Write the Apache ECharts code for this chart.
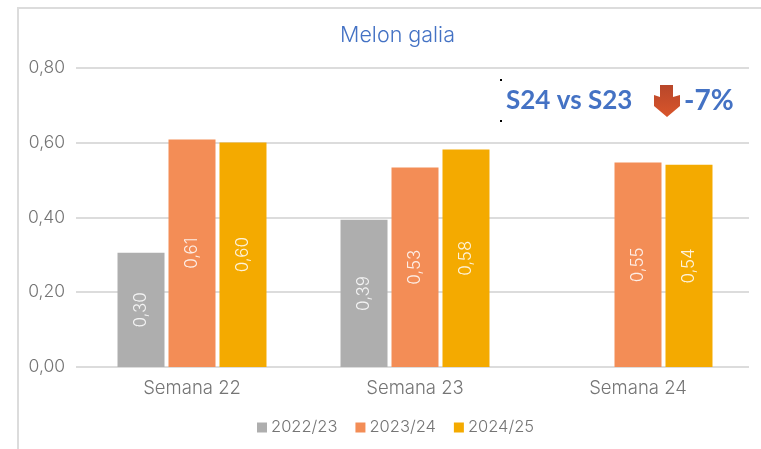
<!DOCTYPE html>
<html>
<head>
<meta charset="utf-8">
<style>
  html, body { margin: 0; padding: 0; background: #fff; }
  #chart { width: 761px; height: 449px; }
</style>
<script src="https://cdn.jsdelivr.net/npm/echarts@6/dist/echarts.min.js"></script>
</head>
<body>
<div id="chart"></div>
<script>
const categories = ['Semana 22', 'Semana 23', 'Semana 24'];
const season_names = ['2022/23', '2023/24', '2024/25'];
const season_colors = ['#aeaeae', '#f38d56', '#f4aa00'];
const values_2022 = [0.305, 0.393, null];
const values_2023 = [0.608, 0.533, 0.546];
const values_2024 = [0.600, 0.581, 0.540];
const label_2022 = ['0,30', '0,39', ''];
const label_2023 = ['0,61', '0,53', '0,55'];
const label_2024 = ['0,60', '0,58', '0,54'];

const font = 'Inter';
const text_gray = '#757575';
const line_gray = '#dcdcdc';

function bar_series(index, values, labels) {
    return {
        name: season_names[index],
        type: 'bar',
        xAxisIndex: 1,
        yAxisIndex: 1,
        data: values,
        barWidth: 47,
        barGap: '8.5%',
        itemStyle: { color: season_colors[index] },
        label: {
            show: true,
            position: 'inside',
            rotate: 90,
            color: 'rgba(255,255,255,0.85)',
            fontFamily: font,
            fontSize: 17,
            fontWeight: 300,
            formatter: function (p) { return labels[p.dataIndex]; }
        }
    };
}

const chart = echarts.init(document.getElementById('chart'));
chart.setOption({
    animation: false,
    backgroundColor: '#ffffff',
    color: season_colors,
    title: {
        text: 'Melon galia',
        left: 392.5,
        top: 20,
        textAlign: 'center',
        textStyle: { color: '#4472c4', fontFamily: font, fontSize: 21.5, fontWeight: 300 }
    },
    legend: {
        top: 414,
        left: 252,
        itemWidth: 10,
        itemHeight: 10,
        itemGap: 18,
        icon: 'rect',
        textStyle: { color: text_gray, fontFamily: font, fontSize: 16.5, fontWeight: 300, padding: [0, 0, 0, -1] },
        data: season_names
    },
    grid: [
        // gridlines and value labels, a little wider than the bars
        { left: 76, right: 12, top: 67.5, height: 299.5 },
        // bars
        { left: 80.5, right: 11.5, top: 67.5, height: 299.5 }
    ],
    xAxis: [
        { gridIndex: 0, type: 'category', data: categories, axisLine: { show: false },
          axisTick: { show: false }, axisLabel: { show: false } },
        { gridIndex: 1, type: 'category', data: categories,
          axisLine: { show: false }, axisTick: { show: false },
          axisLabel: { color: text_gray, fontFamily: font, fontSize: 18.5, fontWeight: 300, margin: 12 } }
    ],
    yAxis: [
        { gridIndex: 0, type: 'value', min: 0, max: 0.8, interval: 0.2,
          axisLine: { show: false }, axisTick: { show: false },
          splitLine: { lineStyle: { color: line_gray, width: 2 } },
          axisLabel: { color: text_gray, fontFamily: font, fontSize: 17.5, fontWeight: 300, margin: 11,
              formatter: function (v) { return v.toFixed(2).replace('.', ','); } } },
        { gridIndex: 1, type: 'value', min: 0, max: 0.8, interval: 0.2, show: false }
    ],
    series: [
        bar_series(0, values_2022, label_2022),
        bar_series(1, values_2023, label_2023),
        bar_series(2, values_2024, label_2024)
    ],
    graphic: [
        // chart frame, left and top edges
        { type: 'rect', shape: { x: 17, y: 7, width: 2, height: 442 }, style: { fill: line_gray } },
        { type: 'rect', shape: { x: 17, y: 7, width: 744, height: 2 }, style: { fill: line_gray } },
        { type: 'rect', z: 10, shape: { x: 500, y: 79, width: 2, height: 2 }, style: { fill: '#000' } },
        { type: 'rect', z: 10, shape: { x: 500, y: 120, width: 2, height: 2 }, style: { fill: '#000' } },
        { type: 'text', z: 10, x: 506, y: 88, style: { text: 'S24 vs S23', fill: '#4472c4',
            font: 'bold 26px Lato' } },
        { type: 'text', z: 10, x: 684, y: 87, style: { text: '-7%', fill: '#4472c4',
            font: 'bold 28px Lato' } },
        { type: 'polygon', z: 10, shape: { points: [[660, 85], [673, 85], [673, 97], [680, 95], [680, 106], [667, 117], [654, 106], [654, 95], [660, 97]] },
          style: { fill: { type: 'linear', x: 0, y: 0, x2: 0, y2: 1,
              colorStops: [{ offset: 0, color: '#b8472a' }, { offset: 1, color: '#d9552b' }] } } }
    ]
});
</script>
</body>
</html>
